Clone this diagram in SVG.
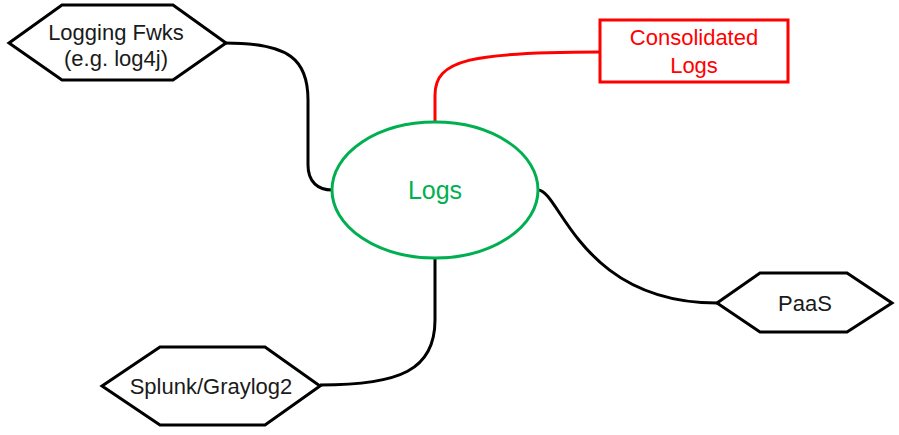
<svg xmlns="http://www.w3.org/2000/svg" width="899" height="435" viewBox="0 0 899 435">
<style>
.hex{fill:#fff;stroke:#000;stroke-width:3;stroke-linejoin:miter}
.t{font-family:"Liberation Sans",Arial,sans-serif;font-size:22px;text-anchor:middle;fill:#1a1a1a}
.c{fill:none;stroke:#000;stroke-width:3}
</style>
<rect width="899" height="435" fill="#fff"/>
<g id="connectors">
<path class="c" d="M225,43 C290,43 308,60 308,100 L308,165 C308,182 318,190 332,190"/>
<path class="c" style="stroke:#f00" d="M435,122 L435,95 C435,60 470,52 600,52"/>
<path class="c" d="M538,190 C560,190 580,303 717,303"/>
<path class="c" d="M435,258 L435,320 C435,370 400,385 320,385"/>
</g>
<g id="logging">
<polygon class="hex" points="9,43 62,5 173,5 226,43 173,80 62,80"/>
<text class="t" x="116" y="40">Logging Fwks</text>
<text class="t" x="116" y="66">(e.g. log4j)</text>
</g>
<g id="consolidated">
<rect x="600" y="20" width="188" height="62" fill="#fff" stroke="#f00" stroke-width="3"/>
<text class="t" x="694" y="45" style="fill:#f00">Consolidated</text>
<text class="t" x="694" y="73" style="fill:#f00">Logs</text>
</g>
<g id="logs">
<ellipse cx="435" cy="190" rx="103" ry="68" fill="#fff" stroke="#00b050" stroke-width="3"/>
<text class="t" x="435" y="199" style="fill:#00b050;font-size:25px">Logs</text>
</g>
<g id="paas">
<polygon class="hex" points="717,303 760,273 847,273 892,303 847,332 760,332"/>
<text class="t" x="805" y="311">PaaS</text>
</g>
<g id="splunk">
<polygon class="hex" points="102,386 160,347 265,347 320,386 265,425 160,425"/>
<text class="t" x="211" y="394">Splunk/Graylog2</text>
</g>
</svg>
